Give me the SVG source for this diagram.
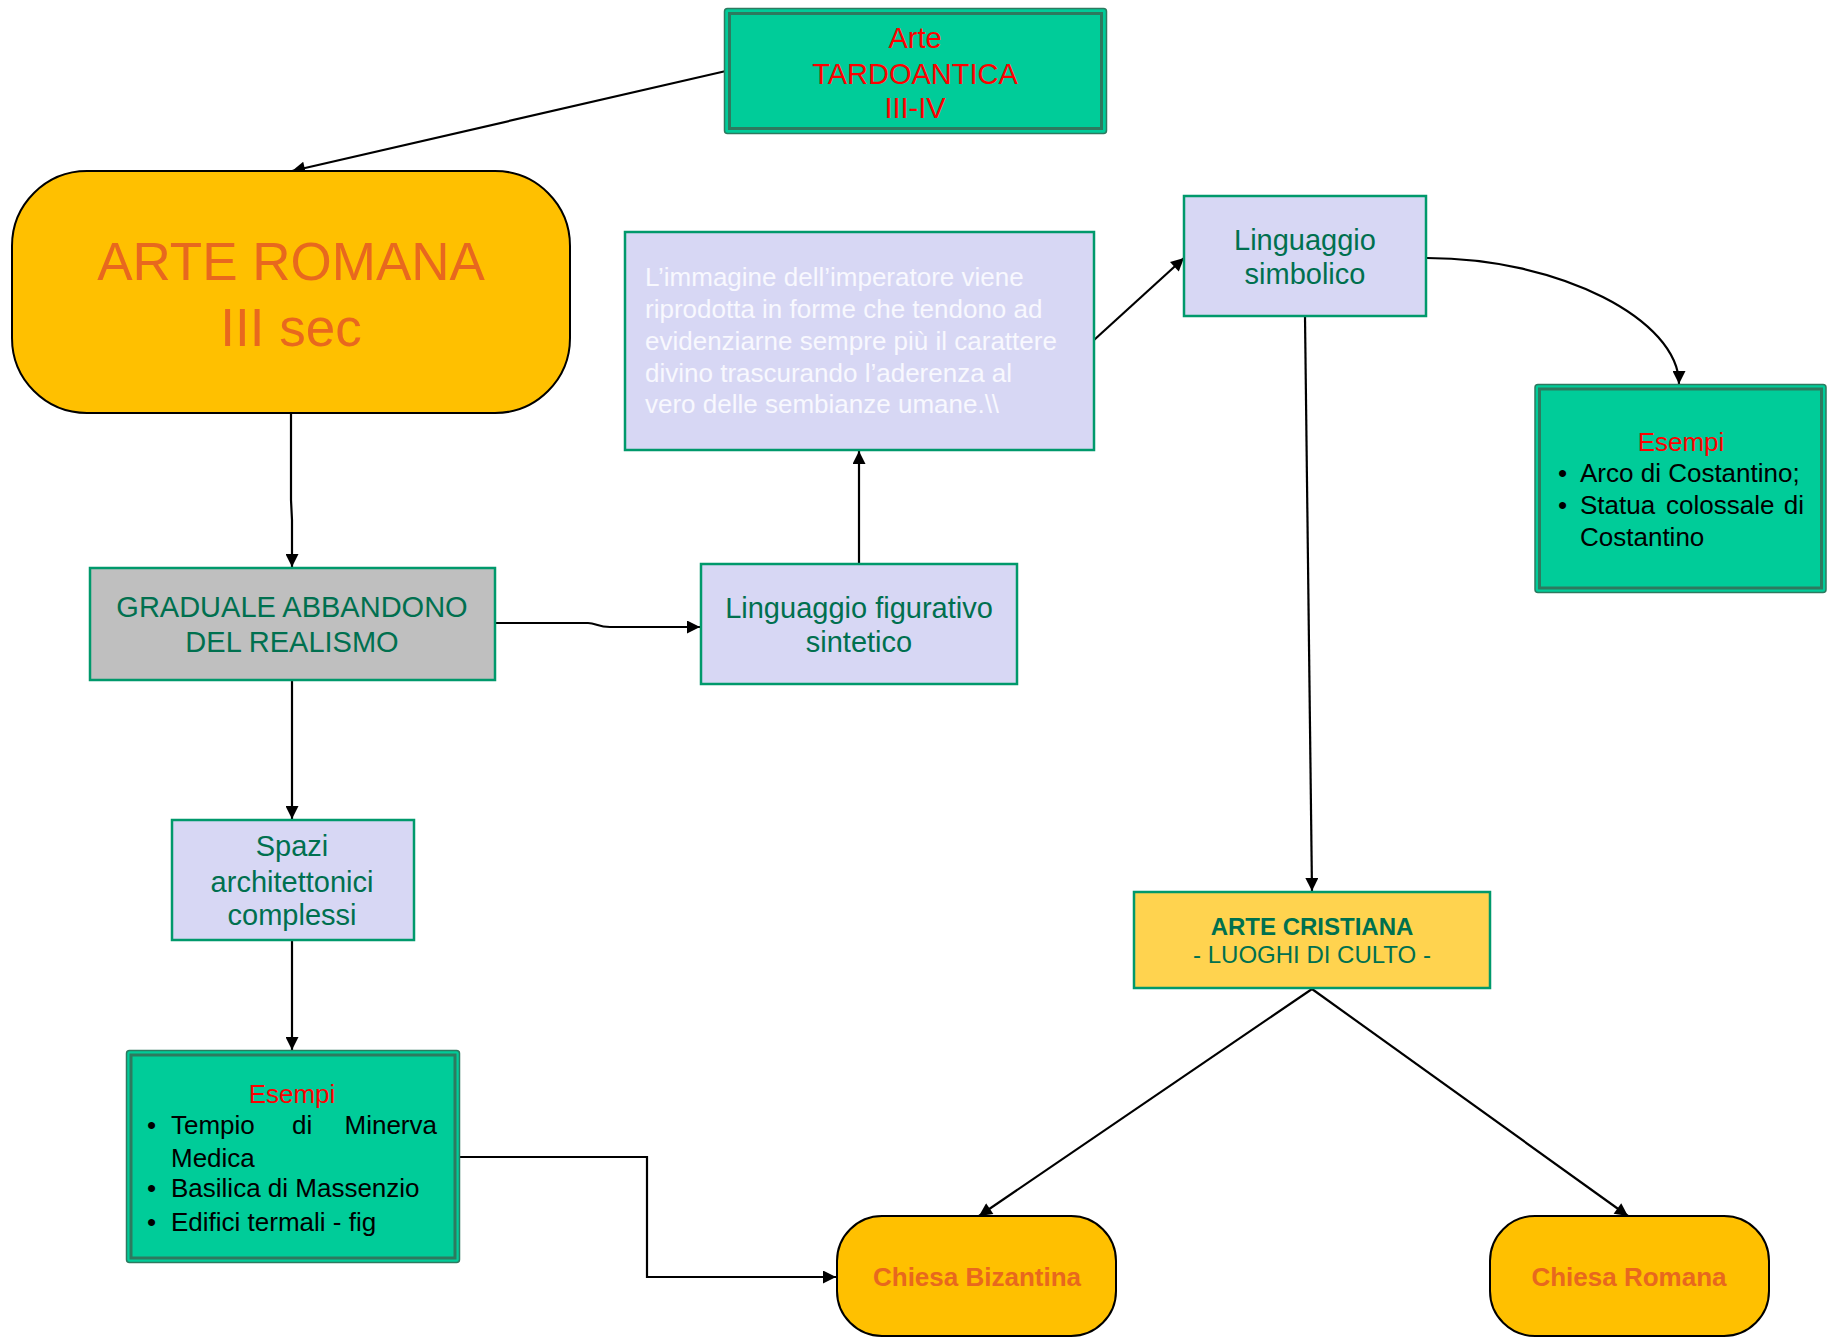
<svg xmlns="http://www.w3.org/2000/svg" width="1831" height="1337" viewBox="0 0 1831 1337">
<style>
text{font-family:"Liberation Sans",Arial,sans-serif}
.lav{fill:#D7D7F4;stroke:#00996B;stroke-width:2.5}
.gn{fill:#00704F;font-size:29px;text-anchor:middle}
.ex-o{fill:#00CC99;stroke:#2D7A5F;stroke-width:1.5}
.ex-i{fill:none;stroke:#2D7A5F;stroke-width:3}
.red{fill:#FF0000}
.blk{fill:#000;font-size:26px}
.orb{fill:#FFC000;stroke:#000;stroke-width:2}
.ort{fill:#E8681E}
.con{fill:none;stroke:#000;stroke-width:2.2;marker-end:url(#arr)}
</style>
<defs>
<marker id="arr" viewBox="0 0 10 10" refX="10" refY="5" markerWidth="17" markerHeight="13" markerUnits="userSpaceOnUse" orient="auto">
<path d="M0,0 L10,5 L0,10 z" fill="#000"/>
</marker>
</defs>
<rect width="1831" height="1337" fill="#fff"/>

<g id="connectors">
<path class="con" d="M726,71 L292,171"/>
<path class="con" d="M291,414 L291,500 L292,520 L292,567"/>
<path class="con" d="M496,623 L588,623 C596,623 598,627 610,627 L700,627"/>
<path class="con" d="M292,681 L292,819"/>
<path class="con" d="M292,941 L292,1050"/>
<path class="con" d="M460,1157 L647,1157 L647,1277 L836,1277"/>
<path class="con" d="M859,563 L859,451"/>
<path class="con" d="M1094,340 L1184,258"/>
<path class="con" d="M1427,258 C1560,258 1679,320 1679,384"/>
<path class="con" d="M1305,317 L1312,891"/>
<path class="con" d="M1312,989 L979,1216"/>
<path class="con" d="M1312,989 L1628,1216"/>
</g>

<g id="tardoantica">
<rect class="ex-o" x="724.5" y="8.5" width="382" height="125" rx="3"/>
<rect class="ex-i" x="729.5" y="13.5" width="372" height="115"/>
<text x="915" y="48" font-size="29" text-anchor="middle" class="red">Arte</text>
<text x="915" y="84" font-size="29" text-anchor="middle" class="red">TARDOANTICA</text>
<text x="915" y="118" font-size="29" text-anchor="middle" class="red">III-IV</text>
</g>

<g id="arte-romana">
<rect class="orb" x="12" y="171" width="558" height="242" rx="75" ry="75"/>
<text x="291" y="280" font-size="53" text-anchor="middle" class="ort">ARTE ROMANA</text>
<text x="291" y="346" font-size="53" text-anchor="middle" class="ort">III sec</text>
</g>

<g id="immagine">
<rect class="lav" x="625" y="232" width="469" height="218"/>
<g fill="#F8F8FE" font-size="26">
<text x="645" y="286">L’immagine dell’imperatore viene</text>
<text x="645" y="318">riprodotta in forme che tendono ad</text>
<text x="645" y="350">evidenziarne sempre più il carattere</text>
<text x="645" y="382">divino trascurando l’aderenza al</text>
<text x="645" y="413">vero delle sembianze umane.\\</text>
</g>
</g>

<g id="simbolico">
<rect class="lav" x="1184" y="196" width="242" height="120"/>
<text class="gn" x="1305" y="250">Linguaggio</text>
<text class="gn" x="1305" y="284">simbolico</text>
</g>

<g id="esempi-destra">
<rect class="ex-o" x="1535" y="384.5" width="291" height="208" rx="3"/>
<rect class="ex-i" x="1539.5" y="389" width="282" height="199"/>
<text x="1681" y="451" font-size="26" text-anchor="middle" class="red">Esempi</text>
<g class="blk">
<text x="1558" y="482">•</text>
<text x="1580" y="482">Arco di Costantino;</text>
<text x="1558" y="514">•</text>
<text x="1580" y="514">Statua</text>
<text x="1666" y="514">colossale</text>
<text x="1804" y="514" text-anchor="end">di</text>
<text x="1580" y="546">Costantino</text>
</g>
</g>

<g id="graduale">
<rect x="90" y="568" width="405" height="112" fill="#BFBFBF" stroke="#00996B" stroke-width="2.5"/>
<text class="gn" x="292" y="617">GRADUALE ABBANDONO</text>
<text class="gn" x="292" y="652">DEL REALISMO</text>
</g>

<g id="figurativo">
<rect class="lav" x="701" y="564" width="316" height="120"/>
<text class="gn" x="859" y="618">Linguaggio figurativo</text>
<text class="gn" x="859" y="652">sintetico</text>
</g>

<g id="spazi">
<rect class="lav" x="172" y="820" width="242" height="120"/>
<text class="gn" x="292" y="856">Spazi</text>
<text class="gn" x="292" y="892">architettonici</text>
<text class="gn" x="292" y="925">complessi</text>
</g>

<g id="esempi-sinistra">
<rect class="ex-o" x="126.5" y="1050.5" width="333" height="212" rx="3"/>
<rect class="ex-i" x="131" y="1055" width="324" height="203"/>
<text x="292" y="1103" font-size="26" text-anchor="middle" class="red">Esempi</text>
<g class="blk">
<text x="147" y="1134">•</text>
<text x="171" y="1134">Tempio</text>
<text x="292" y="1134">di</text>
<text x="437" y="1134" text-anchor="end">Minerva</text>
<text x="171" y="1167">Medica</text>
<text x="147" y="1197">•</text>
<text x="171" y="1197">Basilica di Massenzio</text>
<text x="147" y="1231">•</text>
<text x="171" y="1231">Edifici termali - fig</text>
</g>
</g>

<g id="arte-cristiana">
<rect x="1134" y="892" width="356" height="96" fill="#FFD34F" stroke="#00996B" stroke-width="2.5"/>
<text x="1312" y="935" font-size="24" font-weight="bold" fill="#00704F" text-anchor="middle">ARTE CRISTIANA</text>
<text x="1312" y="963" font-size="24" fill="#00704F" text-anchor="middle">- LUOGHI DI CULTO -</text>
</g>

<g id="chiesa-bizantina">
<rect class="orb" x="837" y="1216" width="279" height="120" rx="45" ry="45"/>
<text x="977" y="1286" font-size="26" font-weight="bold" text-anchor="middle" class="ort">Chiesa Bizantina</text>
</g>

<g id="chiesa-romana">
<rect class="orb" x="1490" y="1216" width="279" height="120" rx="45" ry="45"/>
<text x="1629" y="1286" font-size="26" font-weight="bold" text-anchor="middle" class="ort">Chiesa Romana</text>
</g>
</svg>
